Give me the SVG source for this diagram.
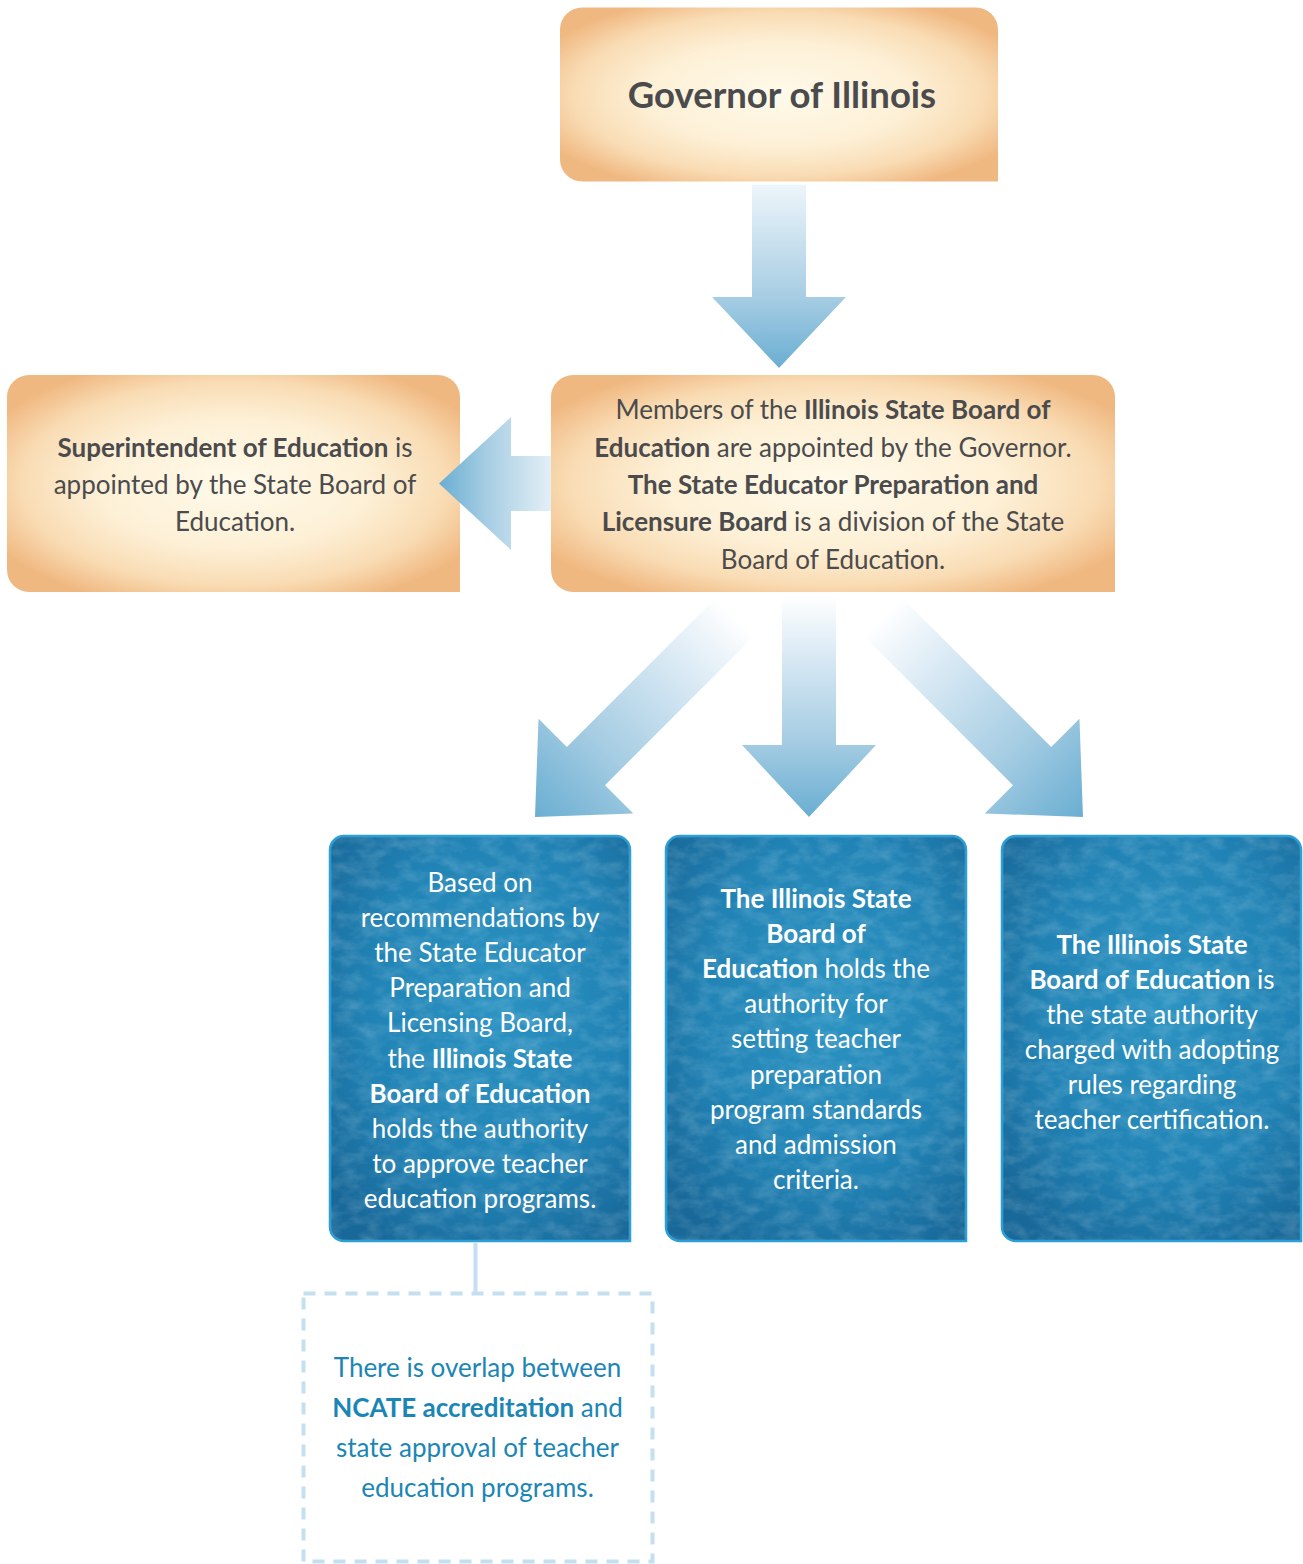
<svg xmlns="http://www.w3.org/2000/svg" width="1303" height="1564" viewBox="0 0 1303 1564">
<defs>
  <radialGradient id="orange" cx="0.5" cy="0.5" r="0.6">
    <stop offset="0" stop-color="#fffaea"/>
    <stop offset="0.5" stop-color="#fdf0d6"/>
    <stop offset="0.78" stop-color="#f9dcb4"/>
    <stop offset="1" stop-color="#f0b881"/>
  </radialGradient>
  <radialGradient id="blue" cx="0.55" cy="0.42" r="0.7">
    <stop offset="0" stop-color="#2b93c2"/>
    <stop offset="0.6" stop-color="#2183b5"/>
    <stop offset="1" stop-color="#186899"/>
  </radialGradient>
  <linearGradient id="arrDown" x1="0" y1="0" x2="0" y2="1">
    <stop offset="0" stop-color="#ffffff"/>
    <stop offset="0.25" stop-color="#dcebf5"/>
    <stop offset="0.65" stop-color="#a6cde3"/>
    <stop offset="1" stop-color="#6aaed2"/>
  </linearGradient>
  <linearGradient id="arrTop" x1="0" y1="0" x2="0" y2="1">
    <stop offset="0" stop-color="#edf5fa"/>
    <stop offset="0.6" stop-color="#a8cee4"/>
    <stop offset="1" stop-color="#6aaed2"/>
  </linearGradient>
  <linearGradient id="arrLeft" x1="1" y1="0" x2="0" y2="0">
    <stop offset="0" stop-color="#e4eff7"/>
    <stop offset="0.55" stop-color="#a9cfe4"/>
    <stop offset="1" stop-color="#6aaed2"/>
  </linearGradient>
  <filter id="grain" x="0" y="0" width="100%" height="100%">
    <feTurbulence type="fractalNoise" baseFrequency="0.05 0.08" numOctaves="5" seed="7" result="t"/>
    <feColorMatrix in="t" type="matrix" values="0 0 0 0 1  0 0 0 0 1  0 0 0 0 1  1.2 0 0 0 -0.45" result="w"/>
    <feComposite in="w" in2="SourceGraphic" operator="in"/>
  </filter>
  <style>
    .txt { font-family: Lato, "Open Sans", sans-serif; text-anchor: middle; }
    .dark { fill: #4b4b4d; font-size: 26px; }
    .white { fill: #ffffff; font-size: 26px; }
    .teal { fill: #1b86b5; font-size: 26px; }
    .b { font-weight: 700; }
    .obox { fill: url(#orange); }
    .bbox { fill: url(#blue); stroke: #2e9fd4; stroke-width: 2.5; }
    .tex { fill: #ffffff; opacity: 0.28; }
  </style>
</defs>
<rect width="1303" height="1564" fill="#ffffff"/>

<g id="governor">
  <path class="obox" d="M582,7.5 H976 A22,22 0 0 1 998,29.5 V181.5 H582 A22,22 0 0 1 560,159.5 V29.5 A22,22 0 0 1 582,7.5 Z"/>
  <text class="txt b" x="782" y="108" fill="#4b4b4d" font-size="36.5">Governor of Illinois</text>
</g>

<g id="superintendent">
  <path class="obox" d="M29,375 H438 A22,22 0 0 1 460,397 V592 H29 A22,22 0 0 1 7,570 V397 A22,22 0 0 1 29,375 Z"/>
  <text class="txt dark" x="235" y="457"><tspan class="b">Superintendent of Education</tspan> is</text>
  <text class="txt dark" x="235" y="494">appointed by the State Board of</text>
  <text class="txt dark" x="235" y="531">Education.</text>
</g>

<g id="isbe">
  <path class="obox" d="M573,375 H1093 A22,22 0 0 1 1115,397 V592 H573 A22,22 0 0 1 551,570 V397 A22,22 0 0 1 573,375 Z"/>
  <text class="txt dark" x="833" y="419">Members of the <tspan class="b">Illinois State Board of</tspan></text>
  <text class="txt dark" x="833" y="457"><tspan class="b">Education</tspan> are appointed by the Governor.</text>
  <text class="txt dark" x="833" y="494"><tspan class="b">The State Educator Preparation and</tspan></text>
  <text class="txt dark" x="833" y="531"><tspan class="b">Licensure Board</tspan> is a division of the State</text>
  <text class="txt dark" x="833" y="569">Board of Education.</text>
</g>

<g id="approve-programs">
  <path class="bbox" d="M344,836 H616 A14,14 0 0 1 630,850 V1241 H344 A14,14 0 0 1 330,1227 V850 A14,14 0 0 1 344,836 Z"/>
  <path class="tex" filter="url(#grain)" d="M344,837 H616 A13,13 0 0 1 629,850 V1240 H344 A13,13 0 0 1 331,1227 V850 A13,13 0 0 1 344,837 Z"/>
  <text class="txt white" x="480" y="892">Based on</text>
  <text class="txt white" x="480" y="927">recommendations by</text>
  <text class="txt white" x="480" y="962">the State Educator</text>
  <text class="txt white" x="480" y="997">Preparation and</text>
  <text class="txt white" x="480" y="1032">Licensing Board,</text>
  <text class="txt white" x="480" y="1068">the <tspan class="b">Illinois State</tspan></text>
  <text class="txt white b" x="480" y="1103">Board of Education</text>
  <text class="txt white" x="480" y="1138">holds the authority</text>
  <text class="txt white" x="480" y="1173">to approve teacher</text>
  <text class="txt white" x="480" y="1208">education programs.</text>
</g>

<g id="program-standards">
  <path class="bbox" d="M680,836 H952 A14,14 0 0 1 966,850 V1241 H680 A14,14 0 0 1 666,1227 V850 A14,14 0 0 1 680,836 Z"/>
  <path class="tex" filter="url(#grain)" d="M680,837 H952 A13,13 0 0 1 965,850 V1240 H680 A13,13 0 0 1 667,1227 V850 A13,13 0 0 1 680,837 Z"/>
  <text class="txt white b" x="816" y="908">The Illinois State</text>
  <text class="txt white b" x="816" y="943">Board of</text>
  <text class="txt white" x="816" y="978"><tspan class="b">Education</tspan> holds the</text>
  <text class="txt white" x="816" y="1013">authority for</text>
  <text class="txt white" x="816" y="1048">setting teacher</text>
  <text class="txt white" x="816" y="1084">preparation</text>
  <text class="txt white" x="816" y="1119">program standards</text>
  <text class="txt white" x="816" y="1154">and admission</text>
  <text class="txt white" x="816" y="1189">criteria.</text>
</g>

<g id="certification-rules">
  <path class="bbox" d="M1016,836 H1287 A14,14 0 0 1 1301,850 V1241 H1016 A14,14 0 0 1 1002,1227 V850 A14,14 0 0 1 1016,836 Z"/>
  <path class="tex" filter="url(#grain)" d="M1016,837 H1287 A13,13 0 0 1 1300,850 V1240 H1016 A13,13 0 0 1 1003,1227 V850 A13,13 0 0 1 1016,837 Z"/>
  <text class="txt white b" x="1152" y="954">The Illinois State</text>
  <text class="txt white" x="1152" y="989"><tspan class="b">Board of Education</tspan> is</text>
  <text class="txt white" x="1152" y="1024">the state authority</text>
  <text class="txt white" x="1152" y="1059">charged with adopting</text>
  <text class="txt white" x="1152" y="1094">rules regarding</text>
  <text class="txt white" x="1152" y="1129">teacher certification.</text>
</g>

<g id="ncate-overlap">
  <rect x="303.5" y="1293.5" width="349" height="268" fill="none" stroke="#c4dff0" stroke-width="4" stroke-dasharray="12 9"/>
  <text class="txt teal" x="477.5" y="1377">There is overlap between</text>
  <text class="txt teal" x="477.5" y="1417"><tspan class="b">NCATE accreditation</tspan> and</text>
  <text class="txt teal" x="477.5" y="1457">state approval of teacher</text>
  <text class="txt teal" x="477.5" y="1497">education programs.</text>
</g>

<g id="connectors">
  <polygon id="arrow-gov-isbe" fill="url(#arrTop)" points="752,185 806,185 806,297 846,297 779,368 712,297 752,297"/>
  <polygon id="arrow-isbe-super" fill="url(#arrLeft)" points="551,456 511,456 511,417 439,483.5 511,550 511,511 551,511"/>
  <polygon id="arrow-isbe-approve" fill="url(#arrDown)" transform="translate(535,817) rotate(45)" points="-27,-284 27,-284 27,-72 67,-72 0,0 -67,-72 -27,-72"/>
  <polygon id="arrow-isbe-standards" fill="url(#arrDown)" points="782,596 836,596 836,745 876,745 809,817 742,745 782,745"/>
  <polygon id="arrow-isbe-rules" fill="url(#arrDown)" transform="translate(1083,817) rotate(-45)" points="-27,-284 27,-284 27,-72 67,-72 0,0 -67,-72 -27,-72"/>
  <line id="link-approve-ncate" x1="475.5" y1="1242.5" x2="475.5" y2="1292" stroke="#c4dff0" stroke-width="4"/>
</g>
</svg>
